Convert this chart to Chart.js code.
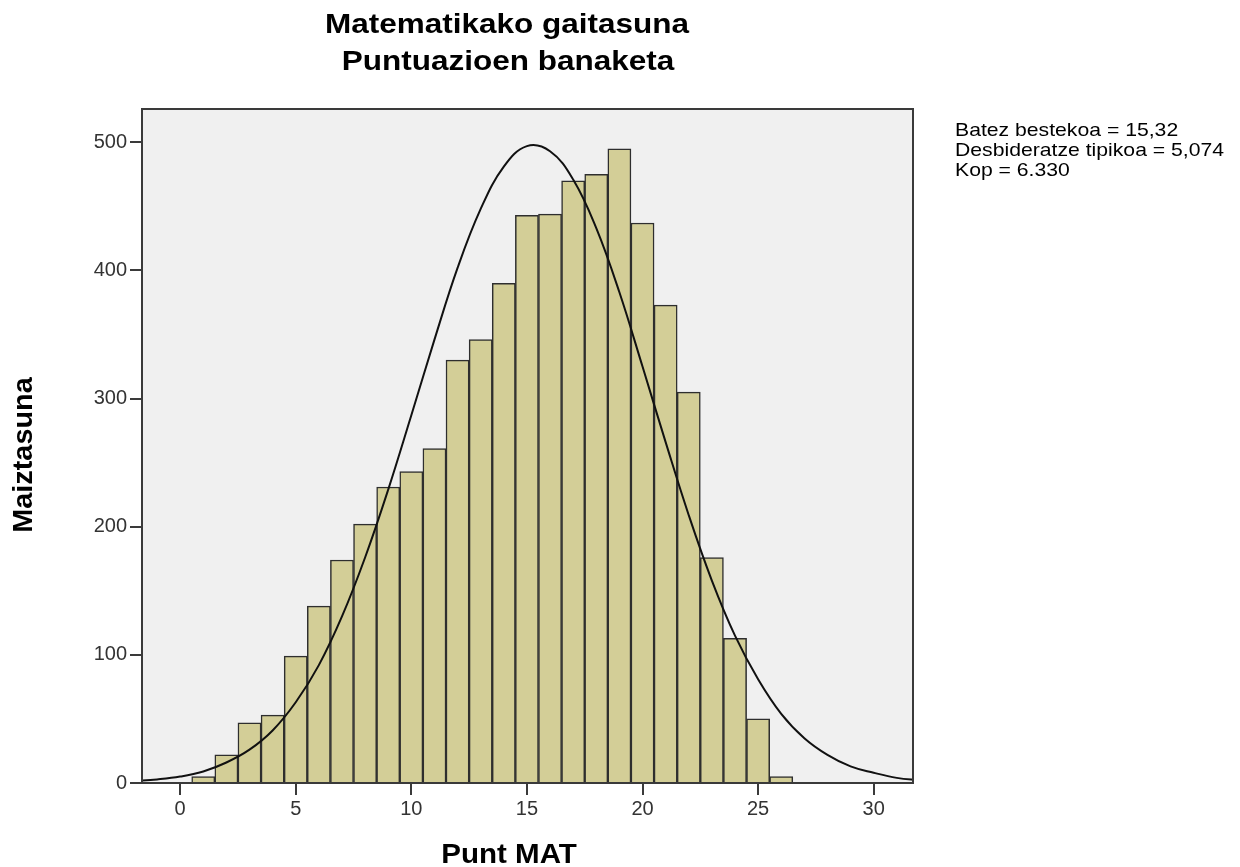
<!DOCTYPE html>
<html>
<head>
<meta charset="utf-8">
<script src="https://cdn.jsdelivr.net/npm/chart.js@4.4.0/dist/chart.umd.min.js"></script>
<style>
  html, body { margin: 0; padding: 0; background: #fff; }
  #ctx { display: block; }
</style>
</head>
<body>
<canvas id="ctx" width="1240" height="867"></canvas>
<script>
// histogram bins (score, count)
const scores = [1, 2, 3, 4, 5, 6, 7, 8, 9, 10, 11, 12, 13, 14, 15, 16, 17, 18, 19, 20, 21, 22, 23, 24, 25, 26];
const counts = [5, 22, 47, 53, 99, 138, 174, 202, 231, 243, 261, 330, 346, 390, 443, 444, 470, 475, 495, 437, 373, 305, 176, 113, 50, 5];

// normal curve
const curveX = [-2, -1, 0, 1, 2, 3, 4, 5, 6, 7, 8, 9, 10, 11, 12, 13, 14, 15, 16, 17, 18, 19, 20, 21, 22, 23, 24, 25, 26, 27, 28, 29, 30, 31, 32];
const curveY = [1.5, 2.8, 5, 9, 16, 26, 41, 63, 92, 130, 176, 229, 287, 346, 402, 448, 481, 497, 493, 471, 433, 383, 325, 266, 209, 158, 115, 81, 54, 35, 22, 13, 8, 4, 2];

const xTicks = [0, 5, 10, 15, 20, 25, 30];
const yTicks = [0, 100, 200, 300, 400, 500];

const titleLines = ['Matematikako gaitasuna', 'Puntuazioen banaketa'];
const statLines = ['Batez bestekoa = 15,32', 'Desbideratze tipikoa = 5,074', 'Kop = 6.330'];

const mychart = document.getElementById('ctx');
const FONT = '"Liberation Sans", Arial, sans-serif';

// text drawn a bit wider than tall, like the source picture
function wideText(c, txt, x, y, sx) {
    c.save();
    c.translate(x, y);
    c.scale(sx, 1);
    c.fillText(txt, 0, 0);
    c.restore();
}

const frame = {
    id: 'frame',
    beforeDraw(chart) {
        const a = chart.chartArea, c = chart.ctx;
        c.save();
        c.fillStyle = '#f0f0f0';
        c.fillRect(a.left, a.top, a.right - a.left, a.bottom - a.top);
        c.restore();
    },
    afterDraw(chart) {
        const a = chart.chartArea, c = chart.ctx;
        c.save();
        c.strokeStyle = '#3a3a3a';
        c.lineWidth = 2;
        c.strokeRect(a.left, a.top, a.right - a.left, a.bottom - a.top);

        c.fillStyle = '#000';
        c.textAlign = 'center';
        c.textBaseline = 'alphabetic';
        c.font = 'bold 28px ' + FONT;
        wideText(c, titleLines[0], 507, 33, 1.125);
        wideText(c, titleLines[1], 508, 70, 1.125);

        c.font = 'bold 28px ' + FONT;
        wideText(c, 'Punt MAT', 509, 863, 1.055);

        c.save();
        c.translate(32, 455);
        c.rotate(-Math.PI / 2);
        c.scale(1.03, 1);
        c.fillText('Maiztasuna', 0, 0);
        c.restore();

        c.textAlign = 'left';
        c.font = '18.5px ' + FONT;
        statLines.forEach((s, i) => wideText(c, s, 955, 135.5 + i * 20, 1.145));
        c.restore();
    }
};

let myChart = new Chart(mychart, {
    data: {
        datasets: [{
            type: 'line',
            data: curveX.map((x, i) => ({x: x, y: curveY[i]})),
            borderColor: '#111',
            borderWidth: 2,
            pointRadius: 0,
            tension: 0.4,
            fill: false,
            order: 0
        }, {
            type: 'bar',
            data: scores.map((x, i) => ({x: x, y: counts[i]})),
            backgroundColor: '#d3ce97',
            borderColor: '#2e2e2e',
            borderWidth: 1.5,
            barPercentage: 1,
            categoryPercentage: 1,
            order: 1
        }]
    },
    options: {
        responsive: false,
        animation: false,
        layout: {padding: {left: 0, top: 109, right: 327, bottom: 0}},
        plugins: {
            legend: {display: false},
            title: {display: false},
            tooltip: {enabled: false}
        },
        scales: {
            x: {
                type: 'linear',
                offset: false,
                min: -1.65,
                max: 31.7,
                afterFit: s => { s.height = 84; },
                afterBuildTicks: s => { s.ticks = xTicks.map(v => ({value: v})); },
                ticks: {
                    color: '#333',
                    font: {family: FONT, size: 20},
                    padding: 2,
                    maxRotation: 0,
                    autoSkip: false
                },
                grid: {offset: false, drawOnChartArea: false, drawTicks: true, tickLength: 12, color: '#3a3a3a', lineWidth: 2},
                border: {display: false}
            },
            y: {
                min: 0,
                max: 526,
                afterFit: s => { s.width = 142; },
                afterBuildTicks: s => { s.ticks = yTicks.map(v => ({value: v})); },
                ticks: {
                    color: '#333',
                    font: {family: FONT, size: 20},
                    padding: 3
                },
                grid: {drawOnChartArea: false, drawTicks: true, tickLength: 12, color: '#3a3a3a', lineWidth: 2},
                border: {display: false}
            }
        }
    },
    plugins: [frame]
});
</script>
</body>
</html>
